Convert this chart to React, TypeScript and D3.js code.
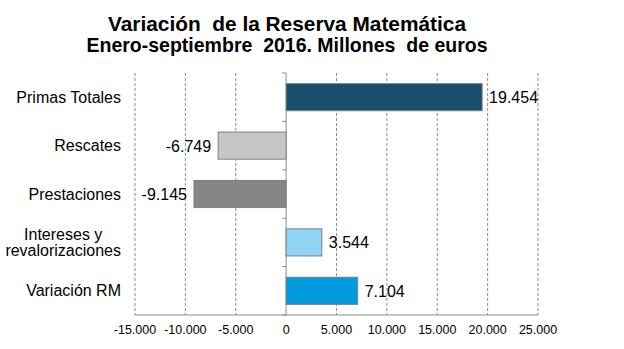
import React from "react";
import * as d3 from "d3";

const categories = ["Primas Totales", "Rescates", "Prestaciones", "Intereses y\nrevalorizaciones", "Variación RM"];
const values = [19454, -6749, -9145, 3544, 7104];
const colors = ["#1a4d6c", "#c6c6c6", "#868686", "#8fd3f5", "#009bdc"];
const xTicks = [-15000, -10000, -5000, 0, 5000, 10000, 15000, 20000, 25000];
const titleLines = ["Variación  de la Reserva Matemática", "Enero-septiembre  2016. Millones  de euros"];
const titleWidths = [358, 401];

const W = 624, H = 349;
const left = 135, right = 538, top = 73, bottom = 315;
const font = "'Liberation Sans', Arial, sans-serif";

const locale = d3.formatLocale({ decimal: ",", thousands: ".", grouping: [3], currency: ["", "€"], minus: "-" });
const fmt = locale.format(",d");

function measure(text: string, size: number): number {
  const c = document.createElement("canvas").getContext("2d");
  if (!c) return text.length * size * 0.5;
  c.font = `${size}px ${font}`;
  return c.measureText(text).width;
}

export default function App() {
  const x = d3.scaleLinear().domain([-15000, 25000]).range([left, right]);
  const y = d3.scaleBand<number>().domain(d3.range(categories.length)).range([top, bottom]).paddingInner(0.44).paddingOuter(0.22);
  const bounds = d3.range(categories.length + 1).map(i => top + (i * (bottom - top)) / categories.length);
  const labelRight = 121;
  return (
    <svg width={W} height={H} style={{ position: "absolute", left: 0, top: 0, background: "#fff" }} fontFamily={font}>
      {titleLines.map((t, i) => (
        <text key={i} x={287 - titleWidths[i] / 2} y={30.5 + i * 21.5} textLength={titleWidths[i]} lengthAdjust="spacingAndGlyphs" fontSize={20.5} fontWeight="bold" fill="#000" style={{ whiteSpace: "pre" }}>{t}</text>
      ))}
      {xTicks.filter(t => t !== 0).map(t => (
        <line key={t} x1={x(t)} x2={x(t)} y1={top} y2={bottom} stroke="#8c8c8c" strokeWidth={1} strokeDasharray="3,2" />
      ))}
      <line x1={left} x2={right} y1={bottom} y2={bottom} stroke="#8c8c8c" />
      <line x1={x(0)} x2={x(0)} y1={top} y2={bottom} stroke="#8c8c8c" />
      {bounds.map((b, i) => (
        <line key={i} x1={x(0) - 4} x2={x(0)} y1={b} y2={b} stroke="#8c8c8c" />
      ))}
      {xTicks.map(t => (
        <text key={t} x={x(t)} y={334} textAnchor="middle" fontSize={12.5} fill="#000">{fmt(t)}</text>
      ))}
      {values.map((v, i) => {
        const x0 = x(Math.min(0, v)), x1 = x(Math.max(0, v));
        const yy = y(i)!;
        return (
          <g key={i}>
            <rect x={x0} y={yy} width={x1 - x0} height={y.bandwidth()} fill={colors[i]} stroke="#7f7f7f" strokeWidth={1} />
            <text x={v >= 0 ? x1 + 7 : x0 - 7} y={yy + y.bandwidth() / 2 + 6} textAnchor={v >= 0 ? "start" : "end"} fontSize={16} fill="#000">{fmt(v)}</text>
          </g>
        );
      })}
      {categories.map((c, i) => {
        const lines = c.split("\n");
        const cy = y(i)! + y.bandwidth() / 2;
        const maxW = Math.max(...lines.map(l => measure(l, 16)));
        const cx = labelRight - maxW / 2;
        return lines.map((l, j) => (
          <text key={i + "-" + j} x={lines.length > 1 ? cx : labelRight} y={cy + 5.5 + (j - (lines.length - 1) / 2) * 16} textAnchor={lines.length > 1 ? "middle" : "end"} fontSize={16} fill="#000">{l}</text>
        ));
      })}
    </svg>
  );
}
